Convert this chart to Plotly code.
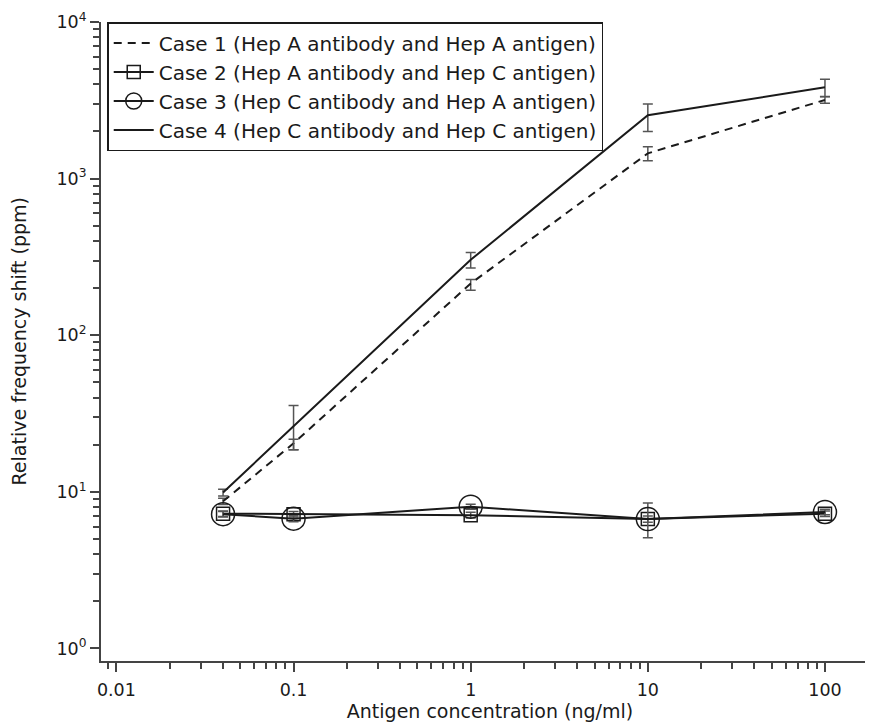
import plotly.graph_objects as go

# ---- data ----
conc = [0.04, 0.1, 1, 10, 100]

case1 = [8.7, 20.4, 214, 1450, 3180]
case1_err_plus = [0.4, 1.3, 13, 150, 150]
case1_err_minus = [0.4, 1.8, 20, 150, 150]

case2 = [7.26, 7.2, 7.1, 6.7, 7.26]
case2_err = [0.3, 0.3, 0.3, 0.3, 0.3]

case3 = [7.2, 6.74, 8.04, 6.7, 7.44]
case3_err_plus = [0.3, 0.3, 0.3, 1.8, 0.3]
case3_err_minus = [0.3, 0.3, 0.3, 1.6, 0.3]

case4 = [9.9, 26.2, 303, 2540, 3830]
case4_err_plus = [0.5, 9.4, 34, 460, 480]
case4_err_minus = [0.5, 7.6, 34, 540, 480]

names = [
    "Case 1 (Hep A antibody and Hep A antigen)",
    "Case 2 (Hep A antibody and Hep C antigen)",
    "Case 3 (Hep C antibody and Hep A antigen)",
    "Case 4 (Hep C antibody and Hep C antigen)",
]

x_ticks = [0.01, 0.1, 1, 10, 100]
x_ticktext = ["0.01", "0.1", "1", "10", "100"]
y_ticks = [1, 10, 100, 1000, 10000]
y_ticktext = ["10<sup>0</sup>", "10<sup>1</sup>", "10<sup>2</sup>", "10<sup>3</sup>", "10<sup>4</sup>"]
x_title = "Antigen concentration (ng/ml)"
y_title = "Relative frequency shift (ppm)"

LINE = "#1a1a1a"
ERR = "#555555"
AXIS = "#444444"
FONT = "DejaVu Sans, Liberation Sans, Arial, sans-serif"

ML, MR, MT, MB = 93, 2, 14, 73


def err(plus, minus):
    return dict(type="data", symmetric=False, array=plus, arrayminus=minus,
                color=ERR, thickness=1.5, width=5)


fig = go.Figure()
fig.add_trace(go.Scatter(
    x=conc, y=case1, name=names[0], mode="lines",
    line=dict(color=LINE, width=2, dash="8px,6px"),
    error_y=err(case1_err_plus, case1_err_minus)))
fig.add_trace(go.Scatter(
    x=conc, y=case2, name=names[1], mode="lines+markers",
    line=dict(color=LINE, width=2),
    marker=dict(symbol="square-open", size=13, color=LINE, line=dict(width=1.5, color=LINE)),
    error_y=err(case2_err, case2_err)))
fig.add_trace(go.Scatter(
    x=conc, y=case3, name=names[2], mode="lines+markers",
    line=dict(color=LINE, width=2),
    marker=dict(symbol="circle-open", size=23, color=LINE, line=dict(width=1.5, color=LINE)),
    error_y=err(case3_err_plus, case3_err_minus)))
fig.add_trace(go.Scatter(
    x=conc, y=case4, name=names[3], mode="lines",
    line=dict(color=LINE, width=2),
    error_y=err(case4_err_plus, case4_err_minus)))

minor_x = [m * 10 ** e for e in range(-3, 3) for m in range(2, 10)]
minor_y = [m * 10 ** e for e in range(0, 4) for m in range(2, 10)]

fig.update_layout(
    width=873, height=726,
    margin=dict(l=ML, r=MR, t=MT, b=MB, autoexpand=False),
    paper_bgcolor="white", plot_bgcolor="white",
    font=dict(family=FONT, size=17.5, color="#1a1a1a"),
    showlegend=True,
    legend=dict(x=0.008, y=1.0, xanchor="left", yanchor="top",
                bgcolor="white", bordercolor="#1a1a1a", borderwidth=1.5,
                font=dict(size=20), tracegroupgap=0,
                itemwidth=40, traceorder="normal"),
    xaxis=dict(
        type="log", range=[-2.087, 2.305],
        tickvals=x_ticks, ticktext=x_ticktext,
        ticks="outside", ticklen=9, tickwidth=1.5, tickcolor=AXIS,
        ticklabelstandoff=3,
        showline=True, linecolor=AXIS, linewidth=2,
        showgrid=False, zeroline=False, mirror=False,
        minor=dict(tickvals=minor_x, ticks="outside", ticklen=6, tickwidth=1.5,
                   tickcolor=AXIS, showgrid=False),
        title=dict(text=x_title, standoff=4, font=dict(size=19)),
        automargin=False,
    ),
    yaxis=dict(
        type="log", range=[-0.08, 4.0],
        tickvals=y_ticks, ticktext=y_ticktext,
        ticks="outside", ticklen=9, tickwidth=1.5, tickcolor=AXIS,
        ticklabeloverflow="allow",
        showline=True, linecolor=AXIS, linewidth=2,
        showgrid=False, zeroline=False, mirror=False,
        minor=dict(tickvals=minor_y, ticks="outside", ticklen=6, tickwidth=1.5,
                   tickcolor=AXIS, showgrid=False),
        automargin=False,
    ),
    annotations=[dict(
        text=y_title, textangle=-90, showarrow=False,
        xref="paper", yref="paper", x=0, y=0.5,
        xanchor="center", yanchor="middle", xshift=-(ML - 10),
        font=dict(size=19),
    )],
)

fig.write_html("out.html")
